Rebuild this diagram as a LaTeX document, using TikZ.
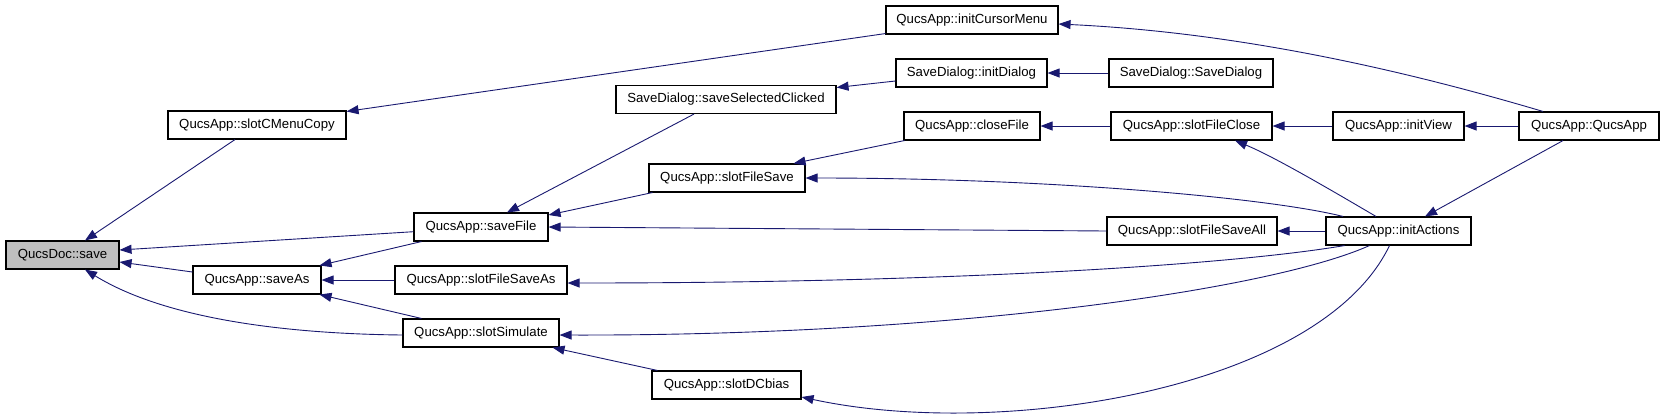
\documentclass[tikz,border=0pt]{standalone}
\usepackage{fontspec}
\setmainfont{Liberation Sans}
\usetikzlibrary{arrows.meta}
\definecolor{edgeblue}{HTML}{191970}
\definecolor{rootgray}{HTML}{BFBFBF}
\tikzset{
  fnode/.style={draw=black, line width=1.1pt, fill=white, inner sep=0pt,
    minimum height=28pt, font=\fontsize{13.2}{15}\selectfont, anchor=center},
  rootnode/.style={fnode, fill=rootgray},
  edge/.style={draw=edgeblue, line width=0.9pt,
    -{Triangle[length=12pt,width=9pt]}, color=edgeblue}
}
\begin{document}
\begin{tikzpicture}[x=1pt,y=-1pt]
\useasboundingbox (0,0) rectangle (1664,413);
% nodes
\node[rootnode, minimum width=113pt] (save) at (62.5,255) {QucsDoc::save};
\node[fnode, minimum width=178pt] (cmenu) at (257,125) {QucsApp::slotCMenuCopy};
\node[fnode, minimum width=128pt] (saveas) at (257,280) {QucsApp::saveAs};
\node[fnode, minimum width=134pt] (savefile) at (481,227) {QucsApp::saveFile};
\node[fnode, minimum width=172pt] (fsaveas) at (481,280) {QucsApp::slotFileSaveAs};
\node[fnode, minimum width=156pt] (simulate) at (481,333) {QucsApp::slotSimulate};
\node[fnode, minimum width=220pt] (selclick) at (726,99.5) {SaveDialog::saveSelectedClicked};
\node[fnode, minimum width=156pt] (fsave) at (727,178) {QucsApp::slotFileSave};
\node[fnode, minimum width=149pt] (dcbias) at (726.5,385) {QucsApp::slotDCbias};
\node[fnode, minimum width=172pt] (cursor) at (972,20) {QucsApp::initCursorMenu};
\node[fnode, minimum width=151pt] (initdlg) at (971.5,73) {SaveDialog::initDialog};
\node[fnode, minimum width=136pt] (closefile) at (972,126) {QucsApp::closeFile};
\node[fnode, minimum width=164pt] (savedlg) at (1191,73) {SaveDialog::SaveDialog};
\node[fnode, minimum width=161pt] (fclose) at (1191.5,126) {QucsApp::slotFileClose};
\node[fnode, minimum width=170pt] (fsaveall) at (1192,231) {QucsApp::slotFileSaveAll};
\node[fnode, minimum width=131pt] (initview) at (1398.5,126) {QucsApp::initView};
\node[fnode, minimum width=145pt] (initact) at (1398.5,231) {QucsApp::initActions};
\node[fnode, minimum width=140pt] (qucsapp) at (1589,126) {QucsApp::QucsApp};
% edges (arrow at callee)
\draw[edge] ([xshift=-22pt]cmenu.south) -- ([xshift=22.5pt]save.north);
\draw[edge] ([yshift=-4.7pt]savefile.west) -- ([yshift=5pt]save.east);
\draw[edge] ([yshift=8pt]saveas.west) -- ([yshift=-7pt]save.east);
\draw[edge] ([yshift=-2pt]simulate.west) .. controls (300,334) and (170,322) .. ([xshift=22.5pt]save.south);
\draw[edge] ([yshift=1pt]cursor.south west) -- ([yshift=-1pt]cmenu.north east);
\draw[edge] ([xshift=-46pt]qucsapp.north) .. controls (1420,75) and (1250,33) .. ([yshift=-4pt]cursor.east);
\draw[edge] (savedlg.west) -- (initdlg.east);
\draw[edge] ([yshift=-8pt]initdlg.west) -- ([yshift=12pt]selclick.east);
\draw[edge] ([xshift=-32pt]selclick.south) -- ([xshift=26pt]savefile.north);
\draw[edge] ([xshift=1pt]closefile.south west) -- ([xshift=-12pt]fsave.north east);
\draw[edge] (fclose.west) -- (closefile.east);
\draw[edge] (initview.west) -- (fclose.east);
\draw[edge] (qucsapp.west) -- (initview.east);
\draw[edge] ([xshift=-22.5pt]initact.north) .. controls (1336,193) and (1275,157) .. ([xshift=43.5pt]fclose.south);
\draw[edge] ([xshift=-26pt]qucsapp.south) -- ([xshift=26.5pt]initact.north);
\draw[edge] ([xshift=-55.5pt]initact.north) .. controls (1270,198) and (1050,178) .. (fsave.east);
\draw[edge] (fsaveall.west) -- (savefile.east);
\draw[edge] (initact.west) -- (fsaveall.east);
\draw[edge] ([xshift=-54pt]initact.south) .. controls (1230,265) and (950,283) .. ([yshift=-3pt]fsaveas.east);
\draw[edge] ([xshift=-29pt]initact.south) .. controls (1270,290) and (950,336) .. ([yshift=-2pt]simulate.east);
\draw[edge] ([xshift=-9pt]initact.south) .. controls (1320,390) and (1000,440) .. ([yshift=-12pt]dcbias.east);
\draw[edge] ([xshift=6pt]dcbias.north west) -- ([xshift=-7pt]simulate.south east);
\draw[edge] ([xshift=4pt]fsave.south west) -- ([yshift=12pt]savefile.east);
\draw[edge] ([xshift=8pt]savefile.south west) -- ([xshift=-2pt]saveas.north east);
\draw[edge] (fsaveas.west) -- (saveas.east);
\draw[edge] ([xshift=19pt]simulate.north west) -- ([xshift=-2pt]saveas.south east);
\end{tikzpicture}
\end{document}
